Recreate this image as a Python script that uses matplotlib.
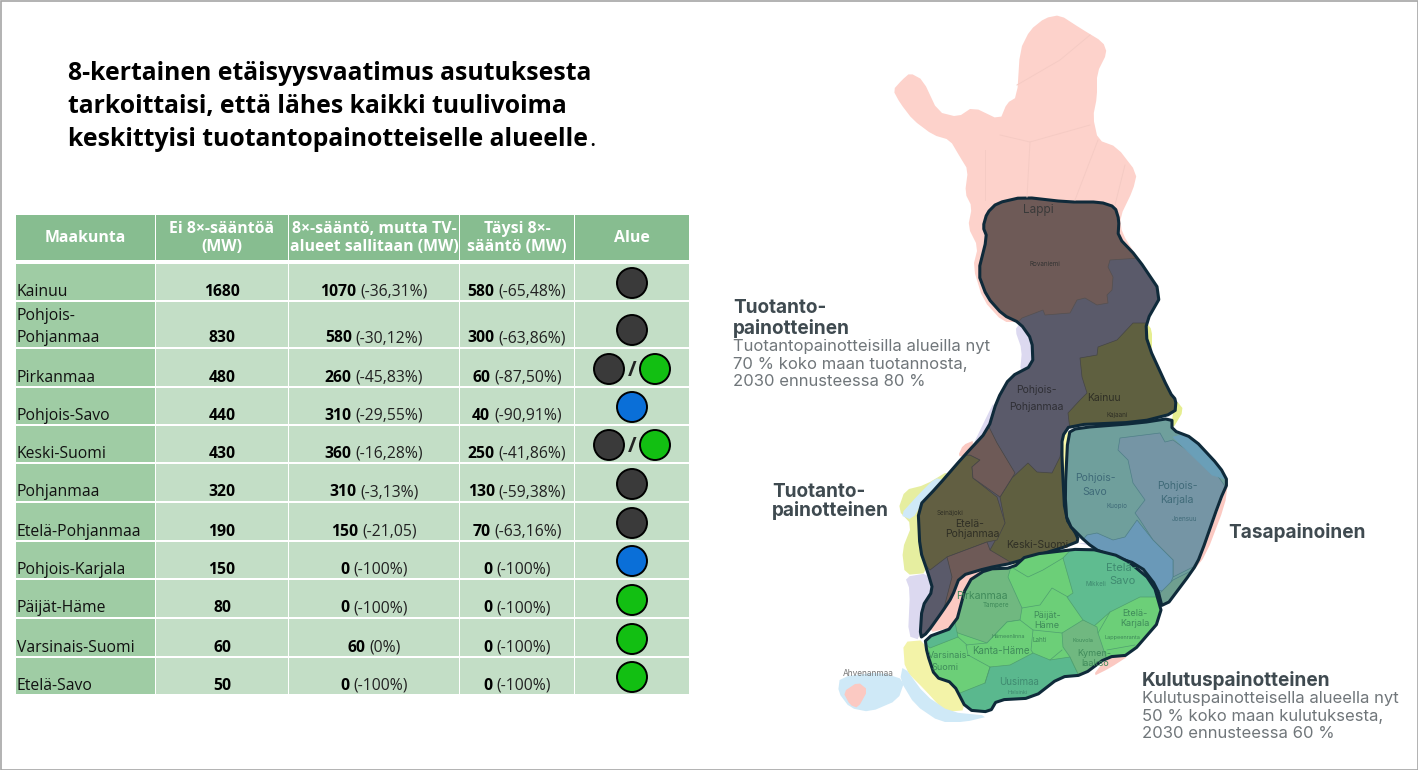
import matplotlib
matplotlib.use("Agg")
import matplotlib.pyplot as plt
from matplotlib.patches import Ellipse, Polygon, Rectangle

plt.rcParams['font.family'] = ['Open Sans', 'DejaVu Sans']

# table data
maakunnat = ["Kainuu", "Pohjois-\nPohjanmaa", "Pirkanmaa", "Pohjois-Savo", "Keski-Suomi", "Pohjanmaa",
             "Etelä-Pohjanmaa", "Pohjois-Karjala", "Päijät-Häme", "Varsinais-Suomi", "Etelä-Savo"]
ei_saantoa = [1680, 830, 480, 440, 430, 320, 190, 150, 80, 60, 50]
tv_sallittu = [1070, 580, 260, 310, 360, 310, 150, 0, 0, 60, 0]
tv_muutos = ["(-36,31%)", "(-30,12%)", "(-45,83%)", "(-29,55%)", "(-16,28%)", "(-3,13%)", "(-21,05)",
             "(-100%)", "(-100%)", "(0%)", "(-100%)"]
taysi = [580, 300, 60, 40, 250, 130, 70, 0, 0, 0, 0]
taysi_muutos = ["(-65,48%)", "(-63,86%)", "(-87,50%)", "(-90,91%)", "(-41,86%)", "(-59,38%)", "(-63,16%)",
                "(-100%)", "(-100%)", "(-100%)", "(-100%)"]
alue = [["t"], ["t"], ["t", "k"], ["b"], ["t", "k"], ["t"], ["t"], ["b"], ["k"], ["k"], ["k"]]
otsikot = ["Maakunta", "Ei 8×-sääntöä\n(MW)", "8×-sääntö, mutta TV-\nalueet sallitaan (MW)",
           "Täysi 8×-\nsääntö (MW)", "Alue"]
alue_varit = {"t": "#3a3a3a", "k": "#12bf12", "b": "#0a6fd8"}

sarakkeet = [(16, 155), (156, 288), (289, 459), (460, 574), (575, 689)]
rivit = [(264, 300), (302, 347), (349, 386), (388, 424), (426, 462), (464, 501),
         (503, 540), (542, 578), (580, 617), (619, 656), (658, 694)]

# map shapes in pixels
lappi_pinkki = [(1030,30),(1045,18),(1060,15),(1080,28),(1103,42),(1107,53),(1097,73),(1097,97),(1093,117),(1098,140),
                (1117,147),(1137,173),(1133,190),(1120,217),(1122,233),(1137,257),(1020,322),(1003,322),(983,300),
                (973,267),(978,247),(968,227),(972,207),(965,193),(968,170),(960,157),(950,140),(933,135),
                (913,120),(900,103),(893,90),(902,80),(910,73),(923,80),(938,112),(958,117),(973,107),
                (1000,120),(1007,103),(1017,97),(1020,50)]
tuotanto = [(983,227),(987,213),(997,203),(1023,197),(1067,202),(1100,202),(1115,207),(1119,220),(1118,237),
            (1137,257),(1162,294),(1146,322),(1147,343),(1170,393),(1176,400),(1175,413),(1140,422),(1070,425),
            (1062,437),(1062,460),(1065,517),(1078,537),(1077,543),(1013,563),(987,568),(960,576),(952,597),
            (942,612),(927,633),(920,638),(922,607),(933,590),(928,573),(920,550),(918,507),(937,487),(963,457),
            (988,430),(997,400),(1010,377),(1033,365),(1032,340),(1020,323),(1003,315),(987,297),(978,273),(987,237)]
lappi_ruskea = [(975,190),(1125,190),(1140,258),(1110,260),(1108,267),(1113,277),(1112,290),(1107,295),(1108,303),
                (1097,305),(1085,298),(1077,300),(1070,313),(1045,315),(1043,310),(1022,318),(1010,330),(970,300)]
kainuu = [(1155,323),(1133,323),(1117,340),(1098,347),(1097,355),(1080,358),(1082,377),(1087,393),(1080,400),
          (1068,413),(1070,430),(1140,430),(1185,415),(1185,395),(1155,343)]
keski_suomi = [(1000,497),(1012,478),(1028,463),(1037,472),(1052,473),(1060,457),(1062,443),(1070,517),(1085,537),
               (1080,550),(1013,570),(990,550),(1005,523)]
etela_pohjanmaa = [(955,455),(970,455),(980,460),(972,467),(973,478),(997,497),(1005,523),(997,540),(987,542),
                   (947,557),(930,570),(912,550),(912,507),(937,480)]
ruskea_1 = [(988,425),(997,443),(1015,473),(1000,497),(973,478),(972,467),(980,460),(970,455),(955,455)]
ruskea_2 = [(947,557),(987,542),(990,550),(1012,563),(990,575),(960,582),(957,597),(943,612),(952,577)]
tasapaino = [(1172,418),(1172,430),(1193,438),(1220,467),(1228,482),(1220,500),(1200,557),(1193,570),(1163,610),
             (1157,587),(1140,565),(1100,552),(1087,543),(1067,523),(1065,493),(1068,433),(1077,428),(1140,423)]
karjala = [(1120,438),(1160,433),(1165,442),(1173,440),(1212,468),(1235,500),(1200,557),(1193,567),(1173,577),
           (1173,560),(1153,540),(1140,520),(1135,513),(1145,500),(1133,483),(1128,460),(1118,450)]
sininen_ala = [(1087,535),(1097,533),(1113,540),(1125,537),(1137,520),(1153,540),(1173,560),(1173,577),(1167,592),
               (1157,590),(1140,570),(1100,558),(1080,543)]
sininen_yla = [(1173,437),(1193,432),(1225,467),(1235,482),(1212,475)]
teal_ala = [(1163,615),(1193,570),(1173,580),(1160,593)]
kulutus = [(925,638),(955,627),(967,582),(987,569),(1013,568),(1027,555),(1087,548),(1123,557),(1153,582),(1163,617),
           (1130,655),(1107,657),(1083,675),(1060,677),(1033,698),(997,700),(990,712),(967,710),(953,683),(935,677),(927,653)]
etela_savo = [(1063,558),(1080,540),(1130,550),(1160,582),(1160,597),(1140,597),(1110,612),(1093,627),(1083,620),
              (1067,597),(1073,593)]
pirkanmaa = [(960,575),(987,560),(1013,560),(1008,577),(1022,608),(1020,620),(1007,622),(987,643),(958,633),(950,627)]
vars_kulma = [(918,638),(955,622),(958,637),(930,648)]
uusimaa = [(990,667),(1033,653),(1050,660),(1070,657),(1080,678),(1060,685),(1033,705),(997,705),(990,720),(960,720),
           (960,693),(985,683)]
kymenlaakso = [(1062,633),(1083,620),(1097,627),(1098,633),(1107,660),(1083,680),(1080,678),(1070,657),(1063,647)]
kanta_hame = [(966,645),(987,643),(1007,622),(1020,620),(1033,630),(1031,650),(1033,653),(1010,665),(990,667),(968,655)]
liila_1 = [(1020,323),(1032,340),(1033,365),(1020,372),(1022,350),(1015,330)]
liila_2 = [(988,430),(972,447),(985,420),(995,400)]
liila_3 = [(928,573),(933,590),(922,607),(920,640),(908,636),(910,590),(905,577)]
liila_4 = [(1077,543),(1087,543),(1100,552),(1123,557),(1140,565),(1157,587),(1153,582),(1123,553),(1087,545)]
keltainen_1 = [(950,470),(937,487),(918,507),(920,550),(928,573),(905,575),(902,550),(912,525),(898,510),(905,490),(925,485)]
keltainen_2 = [(925,640),(935,677),(953,683),(967,710),(945,712),(925,690),(905,670),(903,642)]
keltainen_3 = [(1146,322),(1152,330),(1152,350),(1147,350)]
keltainen_4 = [(1176,400),(1184,410),(1172,430),(1172,418)]
keltainen_5 = [(1062,437),(1070,430),(1068,440),(1066,493),(1067,523),(1078,535),(1065,520)]
keltainen_6 = [(1013,563),(1077,543),(1030,553),(1013,568)]
vaalea_sini = [(903,665),(925,695),(950,712),(990,716),(965,722),(940,722),(915,705),(900,680)]
vaalea_sini_2 = [(918,495),(935,478),(945,480),(925,498),(912,520),(900,515)]
ahvenanmaa = [(840,677),(880,672),(905,680),(898,700),(870,712),(850,708),(838,692)]
ahven_pinkki = [(843,692),(858,682),(868,690),(858,708),(850,705)]
pinkki_etela = [(927,633),(942,612),(952,597),(960,576),(987,568),(967,582),(955,627)]
pinkki_2 = [(1107,657),(1130,655),(1110,668),(1092,677)]
pinkki_3 = [(1228,482),(1222,500),(1200,557),(1190,575),(1206,555),(1225,505)]
pinkki_4 = [(963,445),(975,440),(965,457),(958,456)]

rajat_pinkki = [[(1017,85),(1060,60),(1090,35)], [(1000,135),(1030,142),(1090,125)], [(985,150),(985,200)],
                [(1030,142),(1027,197)], [(1098,140),(1075,200)], [(1125,165),(1115,205)]]
rajat_vihrea = [[(1013,568),(1028,577),(1043,570),(1063,558)], [(1022,608),(1040,605),(1052,588),(1068,597)],
                [(1033,630),(1062,633)], [(1050,660),(1062,650)], [(958,637),(967,645)], [(1098,633),(1110,612)],
                [(990,667),(985,683)], [(1107,650),(1135,645)]]


def pyorista(pts, kierrokset=1):
    # corner cutting, so the traced outlines look less angular
    for _ in range(kierrokset):
        uusi = []
        for i in range(len(pts)):
            x0, y0 = pts[i]
            x1, y1 = pts[(i + 1) % len(pts)]
            uusi.append((0.8 * x0 + 0.2 * x1, 0.8 * y0 + 0.2 * y1))
            uusi.append((0.2 * x0 + 0.8 * x1, 0.2 * y0 + 0.8 * y1))
        pts = uusi
    return pts


fig = plt.figure(figsize=(14.18, 7.70), dpi=100)
ax = fig.add_axes([0, 0, 1, 1])
ax.set_xlim(0, 1418)
ax.set_ylim(770, 0)
ax.axis('off')
ax.add_patch(Rectangle((0.5, 0.5), 1417, 769, fc='white', ec='#a6a6a6', lw=1.2))

title_lines = ["8-kertainen etäisyysvaatimus asutuksesta", "tarkoittaisi, että lähes kaikki tuulivoima",
               "keskittyisi tuotantopainotteiselle alueelle"]
for y, line in zip([74, 106, 139], title_lines):
    ax.text(68, y, line, fontsize=17.8, fontweight='bold', color='black', va='center', ha='left')
ax.text(589, 139, ".", fontsize=17.8, color='black', va='center', ha='left')

# header
for (x0, x1), otsikko in zip(sarakkeet, otsikot):
    ax.add_patch(Rectangle((x0, 215), x1 - x0, 45, fc='#87bd90', ec='none'))
    ax.text((x0 + x1) / 2, 238, otsikko, color='white', fontweight='bold', fontsize=11.4,
            ha='center', va='center', linespacing=1.12)


def pari(xc, y, vahva, ohut):
    # bold number + thin percentage centred together
    r = fig.canvas.get_renderer()
    a = ax.text(0, y, str(vahva), fontweight='bold', fontsize=11.3, color='black', va='center', ha='left')
    b = ax.text(0, y, ohut, fontsize=11.3, color='#222222', va='center', ha='left')
    wa = a.get_window_extent(r).width + 4
    wb = b.get_window_extent(r).width
    a.set_x(xc - (wa + wb) / 2)
    b.set_x(xc - (wa + wb) / 2 + wa)


for i, (y0, y1) in enumerate(rivit):
    ax.add_patch(Rectangle((16, y0), 139, y1 - y0, fc='#9fcca4', ec='none'))
    for x0, x1 in sarakkeet[1:]:
        ax.add_patch(Rectangle((x0, y0), x1 - x0, y1 - y0, fc='#c3dec6', ec='none'))
    yt = y1 - 8.5
    if "\n" in maakunnat[i]:
        eka, toka = maakunnat[i].split("\n")
        ax.text(17, yt - 23, eka, fontsize=11.3, color='#111111', va='center', ha='left')
        ax.text(17, yt, toka, fontsize=11.3, color='#111111', va='center', ha='left')
    else:
        ax.text(17, yt, maakunnat[i], fontsize=11.3, color='#111111', va='center', ha='left')
    ax.text(222, yt, str(ei_saantoa[i]), fontweight='bold', fontsize=11.3, color='black', va='center', ha='center')
    pari(374, yt, tv_sallittu[i], tv_muutos[i])
    pari(517, yt, taysi[i], taysi_muutos[i])
    yc = yt - 8.5
    xs = [632] if len(alue[i]) == 1 else [609, 655]
    for x, a in zip(xs, alue[i]):
        ax.add_patch(Ellipse((x, yc), 30, 30, fc=alue_varit[a], ec='black', lw=1.4, zorder=3))
    if len(alue[i]) == 2:
        ax.text(632, yc + 1, "/", fontsize=15, fontweight='bold', color='#222222', ha='center', va='center')

# map background
for pts, c in [(lappi_pinkki, '#fdd2cb'), (liila_1, '#dcd9f0'), (liila_2, '#dcd9f0'), (liila_3, '#dcd9f0'),
               (liila_4, '#dcd9f0'), (keltainen_1, '#e6eea0'), (keltainen_2, '#f3f3a8'), (keltainen_3, '#e6ee90'),
               (keltainen_4, '#e6ee90'), (keltainen_5, '#f8f8a8'), (keltainen_6, '#f0f0a0'),
               (vaalea_sini, '#cfe9f7'), (vaalea_sini_2, '#cfe9f7'), (ahvenanmaa, '#cfe9f7'),
               (ahven_pinkki, '#fbc9c2'), (pinkki_etela, '#fbc9c2'), (pinkki_2, '#fbc9c2'), (pinkki_3, '#fbc9c2'),
               (pinkki_4, '#fbc9c2')]:
    ax.add_patch(Polygon(pyorista(pts, 1), closed=True, fc=c, ec='none'))

for viiva in rajat_pinkki:
    ax.plot(*zip(*viiva), color='#f5cbc4', lw=0.7)


def alue_kartalle(reuna, pohja, osat):
    # base fill, sub-regions clipped to the outline, then the dark outline
    pehmea = pyorista(reuna)
    ulko = Polygon(pehmea, closed=True, fc=pohja, ec='none')
    ax.add_patch(ulko)
    for pts, c, raja in osat:
        p = Polygon(pts, closed=True, fc=c, ec=raja, lw=0.5)
        ax.add_patch(p)
        p.set_clip_path(ulko)
    ax.add_patch(Polygon(pehmea, closed=True, fc='none', ec='#0f2a3a', lw=2.2, joinstyle='round'))
    return ulko


alue_kartalle(tuotanto, '#5a5a6a', [(lappi_ruskea, '#6e5a57', '#555050'), (kainuu, '#5f6040', '#454545'),
                                    (keski_suomi, '#5f5f40', '#454545'), (etela_pohjanmaa, '#625f42', '#454545'),
                                    (ruskea_1, '#6e5a57', '#454545'), (ruskea_2, '#6e5a57', '#454545')])
alue_kartalle(tasapaino, '#6f9f9c', [(karjala, '#7595a5', '#4f7f88'), (sininen_ala, '#6a99b8', '#4f7f88'),
                                     (sininen_yla, '#6a9fb8', '#6a9fb8'), (teal_ala, '#6f9f90', '#4f7f88')])
vihrea = alue_kartalle(kulutus, '#6ccf78', [(etela_savo, '#5fbc90', '#4f9f70'), (pirkanmaa, '#70b880', '#4f9f70'),
                                            (vars_kulma, '#5ab88e', '#4f9f70'), (uusimaa, '#5ab88e', '#4f9f70'),
                                            (kymenlaakso, '#70b880', '#4f9f70'), (kanta_hame, '#6ccf78', '#4f9f70')])
for viiva in rajat_vihrea:
    l, = ax.plot(*zip(*viiva), color='#4f9f70', lw=0.5)
    l.set_clip_path(vihrea)

# map labels
for x, y, s, c, fs in [(1038, 210, "Lappi", '#3a3a3a', 8.5), (1045, 264, "Rovaniemi", '#333333', 4.5),
                       (1036, 390, "Pohjois-", '#2f2f35', 7.5), (1036, 407, "Pohjanmaa", '#2f2f35', 7.5),
                       (1104, 398, "Kainuu", '#2f2f25', 7.5), (1117, 415, "Kajaani", '#2f2f25', 4.5),
                       (1095, 478, "Pohjois-", '#3f6a78', 7.5), (1095, 492, "Savo", '#3f6a78', 7.5),
                       (1117, 506, "Kuopio", '#3f6a78', 4.5), (1177, 486, "Pohjois-", '#3f6a78', 7.5),
                       (1177, 500, "Karjala", '#3f6a78', 7.5), (1185, 519, "Joensuu", '#3f6a78', 4.5),
                       (970, 524, "Etelä-", '#2f2f25', 7.5), (972, 534, "Pohjanmaa", '#2f2f25', 7.5),
                       (950, 513, "Seinäjoki", '#2f2f25', 4.5), (1037, 545, "Keski-Suomi", '#2f2f25', 7.5),
                       (982, 596, "Pirkanmaa", '#3f8a5a', 7.5), (996, 605, "Tampere", '#3f8a5a', 4.5),
                       (1121, 568, "Etelä-", '#3f8a70', 8), (1122, 581, "Savo", '#3f8a70', 8),
                       (1096, 584, "Mikkeli", '#3f8a70', 4.5), (1047, 615, "Päijät-", '#3f8a5a', 6.5),
                       (1047, 626, "Häme", '#3f8a5a', 6.5), (1001, 651, "Kanta-Häme", '#3f8a5a', 7),
                       (1008, 637, "Hämeenlinna", '#3f8a5a', 4), (1040, 640, "Lahti", '#3f8a5a', 4.5),
                       (1083, 641, "Kouvola", '#3f8a5a', 4), (1135, 614, "Etelä-", '#3f8a5a', 6.5),
                       (1135, 623, "Karjala", '#3f8a5a', 6.5), (1122, 637, "Lappeenranta", '#3f8a5a', 4),
                       (1094, 654, "Kymen-", '#3f8a5a', 6.5), (1095, 664, "laakso", '#3f8a5a', 6.5),
                       (950, 655, "Varsinais-", '#3f8a5a', 6.5), (945, 668, "Suomi", '#3f8a5a', 6.5),
                       (1019, 682, "Uusimaa", '#3f8a70', 7), (1018, 692, "Helsinki", '#3f8a70', 4),
                       (868, 674, "Ahvenanmaa", '#777777', 6)]:
    ax.text(x, y, s, color=c, fontsize=fs, ha='center', va='center', family=['Inter', 'DejaVu Sans'])

# callouts
kirje = ['Inter', 'DejaVu Sans']
for x, y, s in [(733, 308, "Tuotanto-"), (733, 328, "painotteinen"), (772, 492, "Tuotanto-"), (772, 511, "painotteinen"),
                (1228, 533, "Tasapainoinen"), (1142, 680, "Kulutuspainotteinen")]:
    ax.text(x, y, s, color='#3f4a50', fontsize=13.7, fontweight='bold', ha='left', va='center', family=kirje)
for x, y, s in [(733, 346, "Tuotantopainotteisilla alueilla nyt"), (733, 364, "70 % koko maan tuotannosta,"),
                (733, 382, "2030 ennusteessa 80 %"), (1142, 699, "Kulutuspainotteisella alueella nyt"),
                (1142, 717, "50 % koko maan kulutuksesta,"), (1142, 734, "2030 ennusteessa 60 %")]:
    ax.text(x, y, s, color='#70767a', fontsize=12, ha='left', va='center', family=kirje)

fig.savefig("out.png", dpi=100)
